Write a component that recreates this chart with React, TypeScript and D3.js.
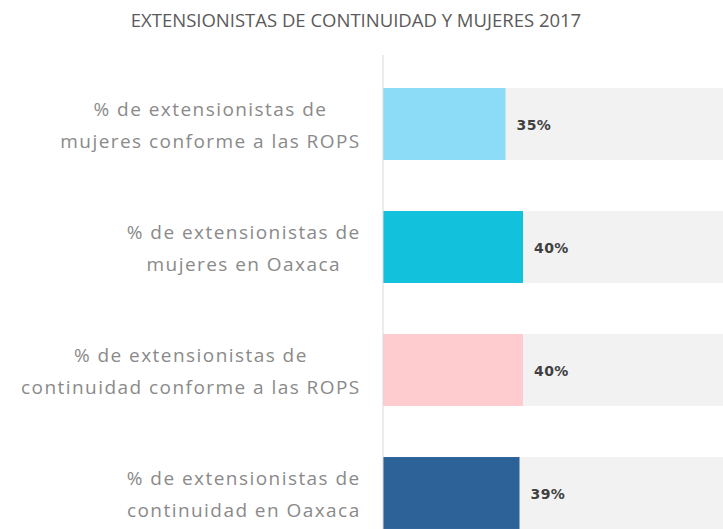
import React from "react";
import * as d3 from "d3";

const title = "EXTENSIONISTAS DE CONTINUIDAD Y MUJERES 2017";
const categories = [
  ["% de extensionistas de", "mujeres conforme a las ROPS"],
  ["% de extensionistas de", "mujeres en Oaxaca"],
  ["% de extensionistas de", "continuidad conforme a las ROPS"],
  ["% de extensionistas de", "continuidad en Oaxaca"],
];
const values = [35, 40, 40, 39];
const colors = ["#8CDCF8", "#12C2DD", "#FECBCF", "#2D6299"];
const maxValue = 100;

const W = 723;
const H = 529;
const LABEL_SIZE = 19;
const LABEL_SPACING = 1.45;

function measure(text: string): number {
  const c = document.createElement("canvas").getContext("2d");
  if (!c) return text.length * 10;
  c.font = `${LABEL_SIZE}px 'Open Sans'`;
  return c.measureText(text).width + text.length * LABEL_SPACING;
}

export default function App() {
  const x = d3.scaleLinear().domain([0, maxValue]).range([383, 733]);
  const keys = categories.map((_, i) => String(i));
  const y = d3
    .scaleBand()
    .domain(keys)
    .range([62.5, 554.5])
    .paddingInner(0.415)
    .paddingOuter(0.2075);
  const bw = y.bandwidth();

  return (
    <div style={{ position: "absolute", left: 0, top: 0 }}>
      <svg width={W} height={H} style={{ display: "block", background: "#fff" }}>
        <text
          x={356}
          y={27}
          textAnchor="middle"
          fontFamily="'Open Sans'"
          fontSize={18.5}
          fill="#5A5A5A"
        >
          {title}
        </text>
        {categories.map((lines, i) => {
          const y0 = y(String(i))!;
          const cy = y0 + bw / 2;
          const maxW = Math.max(...lines.map((l) => measure(l)));
          const cx = 360 + LABEL_SPACING / 2 - maxW / 2;
          return (
            <g key={i}>
              <rect x={x(0)} y={y0} width={x(maxValue) - x(0)} height={bw} fill="#F2F2F2" />
              <rect x={x(0)} y={y0} width={x(values[i]) - x(0)} height={bw} fill={colors[i]} />
              <text
                x={x(values[i]) + 11}
                y={cy + 5.5}
                fontFamily="'DejaVu Sans'"
                fontWeight="bold"
                fontSize={14}
                letterSpacing={0.4}
                fill="#404040"
              >
                {values[i]}%
              </text>
              {lines.map((l, j) => (
                <text
                  key={j}
                  x={cx}
                  y={cy - 8 + j * 32}
                  textAnchor="middle"
                  fontFamily="'Open Sans'"
                  fontSize={LABEL_SIZE}
                  letterSpacing={LABEL_SPACING}
                  fill="#8A8A8A"
                >
                  {l}
                </text>
              ))}
            </g>
          );
        })}
        <line x1={383} x2={383} y1={55} y2={H} stroke="#D9D9D9" strokeWidth={1} />
      </svg>
    </div>
  );
}
